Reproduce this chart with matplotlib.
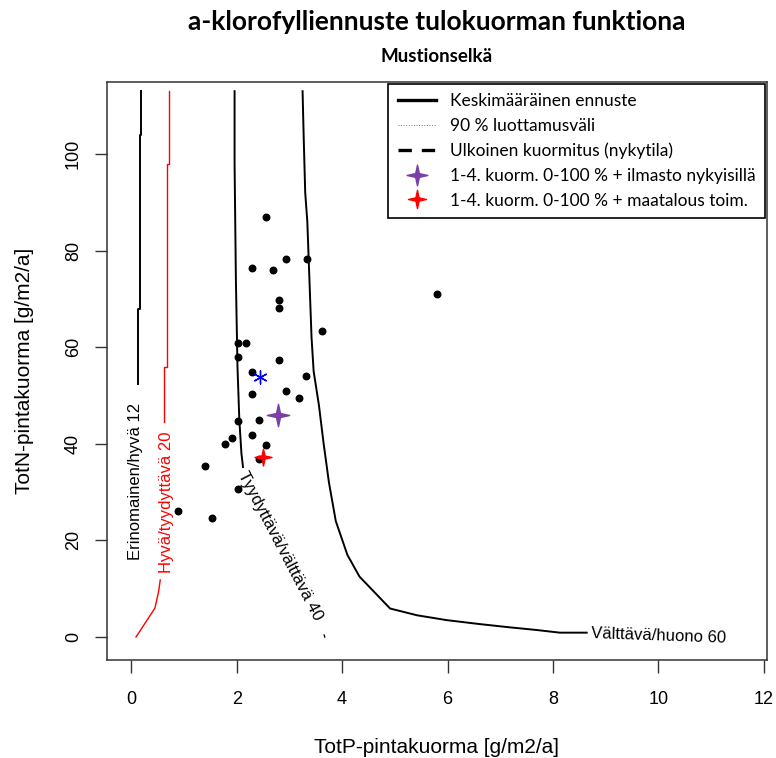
import numpy as np
import matplotlib
matplotlib.use('Agg')
import matplotlib.pyplot as plt
from matplotlib.lines import Line2D
from matplotlib.path import Path

# contour lines of the chlorophyll-a forecast (TotP, TotN)
c12_p = [0.12, 0.12, 0.16, 0.16, 0.19, 0.19]
c12_n = [52.4, 68, 68, 104, 104, 113]

c20_low_p = [0.09, 0.45, 0.52, 0.55]
c20_low_n = [0.0, 6.0, 9.5, 11.8]
c20_up_p = [0.63, 0.63, 0.67, 0.67, 0.71, 0.71]
c20_up_n = [44.5, 56, 56, 98, 98, 113]

c40_p = [2.12, 2.09, 2.05, 2.015, 1.985, 1.96, 1.96]
c40_n = [35.2, 38, 45, 56, 74, 98, 113]
c40_end_p = [3.66, 3.67]
c40_end_n = [0.4, 0.0]

c60_p = [8.64, 8.13, 7.69, 7.18, 6.59, 5.98, 5.42, 4.91, 4.33, 4.10, 3.88,
         3.75, 3.65, 3.56, 3.46, 3.42, 3.38, 3.34, 3.30, 3.27, 3.25]
c60_n = [0.9, 0.9, 1.45, 2.0, 2.7, 3.5, 4.5, 5.9, 12.5, 17, 24,
         32, 40, 48, 55, 62, 74, 86, 92, 104, 113]

# observed loads
obs_p = [2.55, 2.94, 3.33, 2.29, 2.68, 2.81, 2.81, 5.80, 3.62, 2.03, 2.17,
         2.03, 2.81, 2.29, 3.32, 2.94, 2.29, 3.19, 2.42, 2.03, 2.29, 1.91,
         1.78, 2.55, 2.43, 1.40, 2.03, 0.88, 1.53]
obs_n = [86.9, 78.3, 78.3, 76.3, 75.9, 69.8, 68.2, 71.0, 63.3, 60.8, 60.8,
         58.0, 57.3, 54.8, 54.1, 50.9, 50.3, 49.5, 45.0, 44.7, 41.8, 41.1,
         40.0, 39.7, 36.8, 35.5, 30.6, 26.0, 24.6]

# current external load and scenarios
now_p, now_n = 2.45, 53.9
clim_p, clim_n = 2.79, 46.0
agri_p, agri_n = 2.50, 37.2

# four pointed star marker
star = Path([(0, 1), (0.18, 0.18), (1, 0), (0.18, -0.18), (0, -1),
             (-0.18, -0.18), (-1, 0), (-0.18, 0.18), (0, 1)],
            [Path.MOVETO] + [Path.LINETO] * 7 + [Path.CLOSEPOLY])

fig = plt.figure(figsize=(7.76, 7.58), dpi=100)
ax = fig.add_axes([107/776, 1 - 660/758, 660/776, 578/758])

ax.plot(c12_p, c12_n, color='black', lw=1.4)
ax.plot(c20_low_p, c20_low_n, color='red', lw=1.0)
ax.plot(c20_up_p, c20_up_n, color='red', lw=1.0)
ax.plot(c40_p, c40_n, color='black', lw=1.4)
ax.plot(c40_end_p, c40_end_n, color='black', lw=1.0)
ax.plot(c60_p, c60_n, color='black', lw=1.4)

lab = dict(family='Liberation Sans', fontsize=12, ha='center', va='center')
ax.text(0.08, 32.3, 'Erinomainen/hyvä 12', rotation=90, color='black', **lab)
ax.text(0.66, 27.8, 'Hyvä/tyydyttävä 20', rotation=90, color='red', **lab)
ax.text(2.83, 18.8, 'Tyydyttävä/välttävä 40', rotation=-62.4, color='black', **lab)
ax.text(10.0, 0.2, 'Välttävä/huono 60', rotation=-2, color='black', **lab)

ax.scatter(obs_p, obs_n, s=22, color='black', zorder=3)
ax.scatter([now_p], [now_n], marker=(6, 2, 0), s=90, color='blue',
           linewidths=1.0, zorder=4)
ax.scatter([clim_p], [clim_n], marker=star, s=260, color='#7b3fa8', zorder=4)
ax.scatter([agri_p], [agri_n], marker=star, s=150, color='red', zorder=4)

ax.set_xlim(-0.46, 12.06)
ax.set_ylim(-4.76, 114.9)
ax.set_xticks(np.arange(0, 13, 2))
ax.set_yticks(np.arange(0, 101, 20))
for lbl in ax.get_yticklabels():
    lbl.set_rotation(90)
    lbl.set_va('center')
ax.tick_params(direction='out', length=9, width=1, labelsize=13,
               colors='#333333', labelcolor='black')
ax.tick_params(axis='x', pad=13)
ax.tick_params(axis='y', pad=9)
for lbl in ax.get_xticklabels() + ax.get_yticklabels():
    lbl.set_family('Liberation Sans')
for sp in ax.spines.values():
    sp.set_linewidth(1.1)
    sp.set_color('#333333')

ax.set_xlabel('TotP-pintakuorma [g/m2/a]', family='Liberation Sans',
              fontsize=15, labelpad=22)
ax.set_ylabel('TotN-pintakuorma [g/m2/a]', family='Liberation Sans',
              fontsize=15, labelpad=22)

fig.text(0.563, 0.971, 'a-klorofylliennuste tulokuorman funktiona',
         family='Lato', weight='bold', fontsize=19, ha='center', va='center')
fig.text(0.563, 0.925, 'Mustionselkä', family='Lato', weight='bold',
         fontsize=13.5, ha='center', va='center')

handles = [
    Line2D([], [], color='black', lw=2.4),
    Line2D([], [], color='#777777', lw=0.7, ls=':'),
    Line2D([], [], color='black', lw=2.4, ls=(0, (4, 3))),
    Line2D([], [], ls='none', marker=star, ms=15, color='#7b3fa8'),
    Line2D([], [], ls='none', marker=star, ms=13, color='red'),
]
labels = ['Keskimääräinen ennuste', '90 % luottamusväli',
          'Ulkoinen kuormitus (nykytila)',
          '1-4. kuorm. 0-100 % + ilmasto nykyisillä',
          '1-4. kuorm. 0-100 % + maatalous toim.']
leg = ax.legend(handles, labels, loc='upper right', borderaxespad=0.1,
                prop={'family': 'Lato', 'size': 12.5}, fancybox=False,
                framealpha=1, edgecolor='black', handlelength=2.2,
                labelspacing=0.5, borderpad=0.55)
leg.get_frame().set_linewidth(1.2)

fig.savefig('out.png', dpi=100)
